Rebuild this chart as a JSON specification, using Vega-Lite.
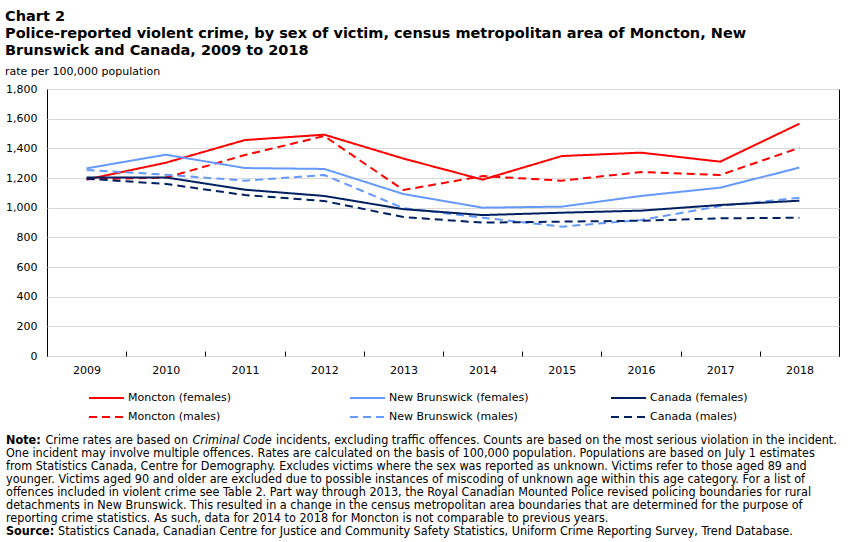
{
  "$schema": "https://vega.github.io/schema/vega-lite/v6.json",
  "padding": {"left": 5, "top": 9, "right": 5, "bottom": 2},
  "title": {
    "text": ["Chart 2", "Police-reported  violent crime, by sex of victim, census metropolitan area of Moncton, New", "Brunswick  and Canada, 2009 to 2018"],
    "subtitle": "rate per 100,000 population",
    "anchor": "start",
    "frame": "bounds",
    "font": "DejaVu Sans",
    "fontSize": 14.5,
    "fontWeight": "bold",
    "lineHeight": 17,
    "color": "#000000",
    "subtitleFont": "DejaVu Sans",
    "subtitleFontSize": 11,
    "subtitleColor": "#000000",
    "subtitlePadding": 7,
    "offset": 5
  },
  "datasets": {
    "rates": [
      {"year": 2009, "series": "Moncton (females)", "rate": 1190},
      {"year": 2010, "series": "Moncton (females)", "rate": 1303},
      {"year": 2011, "series": "Moncton (females)", "rate": 1456},
      {"year": 2012, "series": "Moncton (females)", "rate": 1492},
      {"year": 2013, "series": "Moncton (females)", "rate": 1331},
      {"year": 2014, "series": "Moncton (females)", "rate": 1189},
      {"year": 2015, "series": "Moncton (females)", "rate": 1348},
      {"year": 2016, "series": "Moncton (females)", "rate": 1371},
      {"year": 2017, "series": "Moncton (females)", "rate": 1310},
      {"year": 2018, "series": "Moncton (females)", "rate": 1566},
      {"year": 2009, "series": "Moncton (males)", "rate": 1192},
      {"year": 2010, "series": "Moncton (males)", "rate": 1202},
      {"year": 2011, "series": "Moncton (males)", "rate": 1355},
      {"year": 2012, "series": "Moncton (males)", "rate": 1483},
      {"year": 2013, "series": "Moncton (males)", "rate": 1119},
      {"year": 2014, "series": "Moncton (males)", "rate": 1213},
      {"year": 2015, "series": "Moncton (males)", "rate": 1182},
      {"year": 2016, "series": "Moncton (males)", "rate": 1240},
      {"year": 2017, "series": "Moncton (males)", "rate": 1220},
      {"year": 2018, "series": "Moncton (males)", "rate": 1404},
      {"year": 2009, "series": "New Brunswick (females)", "rate": 1265},
      {"year": 2010, "series": "New Brunswick (females)", "rate": 1357},
      {"year": 2011, "series": "New Brunswick (females)", "rate": 1267},
      {"year": 2012, "series": "New Brunswick (females)", "rate": 1261},
      {"year": 2013, "series": "New Brunswick (females)", "rate": 1092},
      {"year": 2014, "series": "New Brunswick (females)", "rate": 1000},
      {"year": 2015, "series": "New Brunswick (females)", "rate": 1007},
      {"year": 2016, "series": "New Brunswick (females)", "rate": 1079},
      {"year": 2017, "series": "New Brunswick (females)", "rate": 1135},
      {"year": 2018, "series": "New Brunswick (females)", "rate": 1270},
      {"year": 2009, "series": "New Brunswick (males)", "rate": 1254},
      {"year": 2010, "series": "New Brunswick (males)", "rate": 1222},
      {"year": 2011, "series": "New Brunswick (males)", "rate": 1182},
      {"year": 2012, "series": "New Brunswick (males)", "rate": 1220},
      {"year": 2013, "series": "New Brunswick (males)", "rate": 997},
      {"year": 2014, "series": "New Brunswick (males)", "rate": 932},
      {"year": 2015, "series": "New Brunswick (males)", "rate": 872},
      {"year": 2016, "series": "New Brunswick (males)", "rate": 917},
      {"year": 2017, "series": "New Brunswick (males)", "rate": 1011},
      {"year": 2018, "series": "New Brunswick (males)", "rate": 1067},
      {"year": 2009, "series": "Canada (females)", "rate": 1204},
      {"year": 2010, "series": "Canada (females)", "rate": 1204},
      {"year": 2011, "series": "Canada (females)", "rate": 1121},
      {"year": 2012, "series": "Canada (females)", "rate": 1079},
      {"year": 2013, "series": "Canada (females)", "rate": 990},
      {"year": 2014, "series": "Canada (females)", "rate": 950},
      {"year": 2015, "series": "Canada (females)", "rate": 966},
      {"year": 2016, "series": "Canada (females)", "rate": 980},
      {"year": 2017, "series": "Canada (females)", "rate": 1018},
      {"year": 2018, "series": "Canada (females)", "rate": 1047},
      {"year": 2009, "series": "Canada (males)", "rate": 1195},
      {"year": 2010, "series": "Canada (males)", "rate": 1160},
      {"year": 2011, "series": "Canada (males)", "rate": 1085},
      {"year": 2012, "series": "Canada (males)", "rate": 1045},
      {"year": 2013, "series": "Canada (males)", "rate": 937},
      {"year": 2014, "series": "Canada (males)", "rate": 899},
      {"year": 2015, "series": "Canada (males)", "rate": 906},
      {"year": 2016, "series": "Canada (males)", "rate": 912},
      {"year": 2017, "series": "Canada (males)", "rate": 928},
      {"year": 2018, "series": "Canada (males)", "rate": 932}
    ],
    "notes": [
      {"line": 1, "kind": "label", "text": "Note:"},
      {"line": 1, "kind": "lead", "text": "Crime rates are based on"},
      {"line": 1, "kind": "italic", "text": "Criminal Code"},
      {"line": 1, "kind": "tail", "text": "incidents, excluding traffic offences. Counts are based on the most serious violation in the incident."},
      {"line": 2, "kind": "plain", "text": "One incident may involve multiple offences. Rates are calculated on the basis of 100,000 population. Populations are based on July 1 estimates"},
      {"line": 3, "kind": "plain", "text": "from Statistics Canada, Centre for Demography. Excludes victims where the sex was reported as unknown. Victims refer to those aged 89 and"},
      {"line": 4, "kind": "plain", "text": "younger. Victims aged 90 and older are excluded due to possible instances of miscoding of unknown age within this age category. For a list of"},
      {"line": 5, "kind": "plain", "text": "offences included in violent crime see Table 2. Part way through 2013, the Royal Canadian Mounted Police revised policing boundaries for rural"},
      {"line": 6, "kind": "plain", "text": "detachments in New Brunswick. This resulted in a change in the census metropolitan area boundaries that are determined for the purpose of"},
      {"line": 7, "kind": "plain", "text": "reporting crime statistics. As such, data for 2014 to 2018 for Moncton is not comparable to previous years."},
      {"line": 8, "kind": "label", "text": "Source:"},
      {"line": 8, "kind": "source", "text": "Statistics Canada, Canadian Centre for Justice and Community Safety Statistics, Uniform Crime Reporting Survey, Trend Database."}
    ]
  },
  "vconcat": [
    {
      "width": 792,
      "height": 267,
      "data": {"name": "rates"},
      "mark": {"type": "line", "strokeWidth": 2, "strokeJoin": "miter"},
      "encoding": {
        "x": {
          "field": "year",
          "type": "ordinal",
          "scale": {"type": "band", "paddingInner": 0, "paddingOuter": 0},
          "axis": {
            "title": null,
            "labelAngle": 0,
            "domain": false,
            "grid": false,
            "ticks": true,
            "tickBand": "extent",
            "tickSize": -5,
            "tickColor": "#000000",
            "labelPadding": 13,
            "labelFont": "DejaVu Sans",
            "labelFontSize": 11,
            "labelColor": "#000000"
          }
        },
        "y": {
          "field": "rate",
          "type": "quantitative",
          "scale": {"domain": [0, 1800]},
          "axis": {
            "title": null,
            "values": [0, 200, 400, 600, 800, 1000, 1200, 1400, 1600, 1800],
            "format": ",.0f",
            "domain": false,
            "ticks": false,
            "labelPadding": 10,
            "gridColor": "#d9d9d9",
            "gridWidth": 1,
            "labelFont": "DejaVu Sans",
            "labelFontSize": 11,
            "labelColor": "#000000"
          }
        },
        "color": {
          "field": "series",
          "type": "nominal",
          "title": null,
          "scale": {
            "domain": ["Moncton (females)", "New Brunswick (females)", "Canada (females)", "Moncton (males)", "New Brunswick (males)", "Canada (males)"],
            "range": ["#ff0000", "#6699ff", "#002060", "#ff0000", "#6699ff", "#002060"]
          }
        },
        "strokeDash": {
          "field": "series",
          "type": "nominal",
          "title": null,
          "scale": {
            "domain": ["Moncton (females)", "New Brunswick (females)", "Canada (females)", "Moncton (males)", "New Brunswick (males)", "Canada (males)"],
            "range": [[1, 0], [1, 0], [1, 0], [8, 5], [8, 5], [8, 5]]
          }
        }
      }
    },
    {
      "width": 792,
      "height": 104,
      "view": {"stroke": null},
      "data": {"name": "notes"},
      "encoding": {
        "y": {"field": "line", "type": "ordinal", "scale": {"type": "band", "paddingInner": 0, "paddingOuter": 0}, "axis": null},
        "x": {"value": -41},
        "text": {"field": "text"}
      },
      "layer": [
        {"transform": [{"filter": "datum.kind === 'plain'"}], "mark": {"type": "text", "align": "left", "baseline": "middle", "font": "DejaVu Sans Condensed", "fontSize": 12.5, "color": "#000000"}},
        {"transform": [{"filter": "datum.kind === 'label'"}], "mark": {"type": "text", "align": "left", "baseline": "middle", "font": "DejaVu Sans Condensed", "fontSize": 12.5, "fontWeight": "bold", "color": "#000000"}},
        {"transform": [{"filter": "datum.kind === 'lead'"}], "mark": {"type": "text", "align": "left", "baseline": "middle", "dx": 39.5, "font": "DejaVu Sans Condensed", "fontSize": 12.5, "color": "#000000"}},
        {"transform": [{"filter": "datum.kind === 'italic'"}], "mark": {"type": "text", "align": "left", "baseline": "middle", "dx": 186.5, "font": "DejaVu Sans Condensed", "fontSize": 12.5, "fontStyle": "italic", "color": "#000000"}},
        {"transform": [{"filter": "datum.kind === 'tail'"}], "mark": {"type": "text", "align": "left", "baseline": "middle", "dx": 270, "font": "DejaVu Sans Condensed", "fontSize": 12.5, "color": "#000000"}},
        {"transform": [{"filter": "datum.kind === 'source'"}], "mark": {"type": "text", "align": "left", "baseline": "middle", "dx": 52, "font": "DejaVu Sans Condensed", "fontSize": 12.5, "color": "#000000"}}
      ]
    }
  ],
  "spacing": 57,
  "config": {
    "view": {"stroke": "#000000", "strokeWidth": 1},
    "legend": {
      "orient": "none",
      "legendX": 41,
      "legendY": 300,
      "direction": "horizontal",
      "columns": 3,
      "gridAlign": "all",
      "columnPadding": 81,
      "rowPadding": 1,
      "symbolType": "stroke",
      "symbolSize": 1225,
      "symbolStrokeWidth": 2,
      "symbolLimit": 0,
      "labelOffset": 3,
      "labelFont": "DejaVu Sans",
      "labelFontSize": 11,
      "labelColor": "#000000",
      "labelLimit": 300,
      "clipHeight": 18
    }
  }
}
